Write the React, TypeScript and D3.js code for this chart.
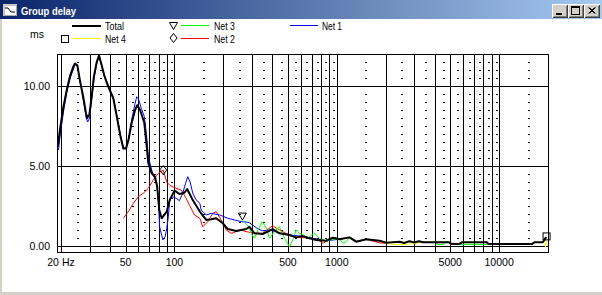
import React from 'react';
import * as d3 from 'd3';

type Pt = [number, number];

// ---- data (frequency Hz, group delay ms) ----
const totalData: Pt[] = [
  [19.1, 6.2], [19.7, 7.25], [20.7, 8.7], [21.7, 9.75], [22.7, 10.6], [23.8, 11.2], [24.4, 11.4], [25.2, 11.3],
  [26.1, 10.4], [27.4, 9.33], [28.5, 8.3], [29.0, 8.0], [29.9, 8.2], [30.9, 9.33], [31.9, 10.6], [33.2, 11.5],
  [34.3, 11.9], [35.6, 11.3], [37.1, 10.6], [39.1, 9.96], [42.0, 9.23], [44.1, 8.1], [46.3, 6.94], [48.4, 6.1],
  [50.3, 6.1], [52.0, 6.6], [54.5, 7.7], [57.2, 8.5], [59.0, 8.8], [61.4, 8.5], [65.2, 7.7], [67.5, 6.2],
  [69.0, 5.17], [72.4, 4.54], [75.8, 4.33], [78.3, 3.7], [80.6, 2.25], [83.4, 1.73], [89.6, 2.15], [93.5, 2.88],
  [100, 3.46], [107.3, 3.25], [115.2, 3.33], [119.7, 3.56], [129.6, 2.88], [143.3, 2.15], [156.8, 1.63],
  [168.3, 1.67], [180.7, 1.73], [198.4, 1.42], [213, 1.06], [240, 0.94], [276.5, 1.06], [289.8, 1.2], [311, 0.79],
  [350, 0.75], [403, 1.06], [443, 0.79], [511, 0.69], [562, 0.54], [617, 0.62], [679, 0.48], [747, 0.38],
  [860, 0.33], [945, 0.52], [1039, 0.42], [1197, 0.54], [1317, 0.27], [1518, 0.42], [1833, 0.33], [2016, 0.21],
  [2434, 0.27], [2600, 0.19], [2800, 0.3], [3000, 0.22], [3200, 0.3], [3400, 0.23], [4900, 0.23], [5100, 0.13],
  [5700, 0.13], [5900, 0.23], [8400, 0.23], [8600, 0.13], [16000, 0.13], [16500, 0.23], [18600, 0.23],
  [19300, 0.5], [19600, 0.55],
];

const net1Data: Pt[] = [
  [19.3, 6.0], [19.8, 7.0], [20.8, 8.5], [21.8, 9.7], [22.8, 10.5], [23.9, 11.1], [24.5, 11.35], [25.3, 11.2],
  [26.2, 10.3], [27.5, 9.1], [28.6, 8.0], [29.2, 7.75], [30.0, 8.0], [31.0, 9.3], [32.0, 10.5], [33.2, 11.4],
  [34.3, 11.85], [35.6, 11.3], [37.1, 10.6], [39.1, 10.0], [42.0, 9.3], [44.1, 8.2], [46.3, 7.0], [48.4, 6.15],
  [50.3, 6.1], [52.0, 6.6], [54.5, 7.9], [57.2, 8.9], [58.5, 9.33], [60.0, 9.2], [62.5, 8.6], [65.2, 8.1],
  [67.5, 6.8], [69.0, 5.6], [70.7, 5.17], [72.4, 4.75], [74.7, 4.33], [77.7, 4.0], [79.5, 2.88], [81, 1.2],
  [84.8, 0.38], [87.6, 0.58], [89.6, 1.1], [91.7, 1.83], [93.5, 2.88], [97.6, 3.08], [102.4, 2.98], [107.3, 2.83],
  [112.5, 3.3], [116.9, 3.9], [120.8, 4.33], [124.9, 4.0], [129.6, 3.3], [136, 2.88], [143.3, 2.67], [146, 2.25],
  [156.8, 1.94], [168.3, 2.04], [190, 1.94], [213, 1.73], [234, 1.63], [258, 1.52], [276.5, 1.5], [290, 1.45],
  [323, 1.1], [350, 0.95], [385, 1.0], [424, 0.88], [465, 0.75], [511, 0.69], [590, 0.62], [747, 0.44],
  [860, 0.33], [1039, 0.42],
];

const net2Data: Pt[] = [
  [48.4, 1.73], [52.0, 2.15], [55.9, 2.67], [59.9, 3.08], [64.3, 3.3], [69.0, 3.6], [74.0, 4.13], [79.5, 4.54],
  [85.2, 4.75], [89.6, 4.0], [93.5, 3.8], [100, 3.65], [110, 3.5], [118, 2.98], [123.8, 2.55], [132.8, 1.94],
  [143.3, 1.73], [149.4, 1.2], [160.4, 1.52], [172.2, 2.04], [180.7, 2.15], [194, 1.63], [208.6, 1.0],
  [224, 0.79], [240, 0.9], [258, 1.0], [276, 0.9], [311, 0.8], [350, 0.8], [403, 1.27], [443, 1.0], [486, 0.79],
  [562, 0.54], [679, 0.5], [747, 0.44], [824, 0.17], [945, 0.54], [1039, 0.42], [1197, 0.54], [1317, 0.27],
  [1518, 0.42], [1833, 0.2], [2000, 0.17],
];

const net3Data: Pt[] = [
  [262, 1.62], [287, 1.2], [301, 0.69], [311, 0.48], [327, 1.0], [348, 1.52], [369, 1.1], [385, 0.48],
  [413, 0.9], [443, 1.2], [476, 0.48], [511, -0.04], [536, 0.38], [562, 1.0], [590, 0.79], [624, 0.69],
  [665, 0.48], [697, 0.69], [730, 0.79], [782, 0.48], [860, 0.27], [940, 0.44], [1039, 0.42], [1095, 0.17],
  [1150, 0.3], [1197, 0.54], [1317, 0.27], [1518, 0.42], [1833, 0.33], [2016, 0.21], [2434, 0.27], [2600, 0.19],
  [2800, 0.3], [3000, 0.22], [3200, 0.3], [3400, 0.23], [4100, 0.23], [4150, 0.1], [4550, 0.1], [4600, 0.23],
  [4900, 0.23], [5100, 0.1], [8400, 0.1], [8600, 0.13], [16000, 0.13], [16500, 0.23], [18600, 0.23],
];

const net4Data: Pt[] = [
  [2016, 0.21], [2250, 0.1], [2750, 0.1], [2850, 0.2], [2950, 0.15], [3150, 0.15], [3250, 0.23], [3400, 0.23],
  [4900, 0.23], [5100, 0.13], [5700, 0.13], [5900, 0.23], [8400, 0.23], [8600, 0.13], [12400, 0.13],
  [12550, 0.1], [12850, 0.1], [13000, 0.13], [16000, 0.13], [16500, 0.23], [18600, 0.23], [19100, 0.35],
  [19300, -0.08], [19500, 0.3],
];

const seriesNames = ['Total', 'Net 1', 'Net 2', 'Net 3', 'Net 4'];
const seriesColors = ['#000000', '#0000ff', '#ff0000', '#00ff00', '#ffff00'];
const seriesData = [totalData, net1Data, net2Data, net3Data, net4Data];

// marker points (series index, freq, value)
const markerSeries = [3, 2, 4];
const markerShapes = ['triangle', 'diamond', 'square'];
const markerFreqs = [262, 85.2, 19600];
const markerValues = [1.62, 4.75, 0.6];

const xTickValues = [20, 50, 100, 500, 1000, 5000, 10000];
const xTickLabels = ['20 Hz', '50', '100', '500', '1000', '5000', '10000'];
const yTickValues = [0, 5, 10];
const yTickLabels = ['0.00', '5.00', '10.00'];

const W = 602;
const H = 295;
const FL = 57, FR = 548, FT = 54, FB = 252;

const FONT = "'Liberation Sans', Arial, sans-serif";

function Marker({ shape, cx, cy, tipAnchor }: { shape: string; cx: number; cy: number; tipAnchor?: boolean }) {
  if (shape === 'triangle') {
    const ty = tipAnchor ? cy : cy + 3.5;
    return <path d={`M${cx - 4},${ty - 7}L${cx + 4},${ty - 7}L${cx},${ty}Z`} fill="none" stroke="#000" strokeWidth={1} />;
  }
  if (shape === 'diamond') {
    return <path d={`M${cx},${cy - 4.5}L${cx + 3.5},${cy}L${cx},${cy + 4.5}L${cx - 3.5},${cy}Z`} fill="none" stroke="#000" strokeWidth={1} />;
  }
  return <rect x={cx - 3.5} y={cy - 3.5} width={7} height={7} fill="none" stroke="#000" strokeWidth={1} />;
}

function Button({ x, kind }: { x: number; kind: string }) {
  const y = 4, w = 16, h = 14;
  return (
    <g shapeRendering="crispEdges">
      <rect x={x} y={y} width={w} height={h} fill="#d4d0c8" />
      <path d={`M${x + 0.5},${y + h - 0.5}V${y + 0.5}H${x + w - 0.5}`} stroke="#ffffff" fill="none" />
      <path d={`M${x + 0.5},${y + h - 0.5}H${x + w - 0.5}V${y + 0.5}`} stroke="#404040" fill="none" />
      <path d={`M${x + 1.5},${y + h - 1.5}H${x + w - 1.5}V${y + 1.5}`} stroke="#808080" fill="none" />
      {kind === 'min' && <rect x={x + 4} y={y + 9} width={6} height={2} fill="#000" />}
      {kind === 'max' && (
        <g>
          <rect x={x + 3.5} y={y + 2.5} width={8} height={8} fill="none" stroke="#000" />
          <rect x={x + 3} y={y + 3} width={9} height={1} fill="#000" />
        </g>
      )}
      {kind === 'close' && (
        <path d={`M${x + 4.5},${y + 3.5}L${x + 10.5},${y + 9.5}M${x + 10.5},${y + 3.5}L${x + 4.5},${y + 9.5}M${x + 5.5},${y + 3.5}L${x + 11.5},${y + 9.5}M${x + 11.5},${y + 3.5}L${x + 5.5},${y + 9.5}`} stroke="#000" strokeWidth={1} shapeRendering="auto" />
      )}
    </g>
  );
}

export default function App() {
  const xs = d3.scaleLog().domain([20, 20000]).range([61, 548]);
  const ys = d3.scaleLinear().domain([0, 10]).range([246, 86]);
  const line = d3.line<Pt>().x((d) => xs(d[0])).y((d) => ys(d[1]));

  const majorF: number[] = [];
  const minorF: number[] = [];
  [10, 100, 1000, 10000].forEach((dec) => {
    for (let k = 1; k <= 9; k++) {
      const f = k * dec;
      if (f >= 20 && f <= 20000) majorF.push(f);
      const m = (k + 0.5) * dec;
      if (m > 20 && m < 20000) minorF.push(m);
    }
  });
  const dotVals: number[] = [];
  for (let v = 0.5; v <= 11.5; v += 0.5) if (v % 5 !== 0) dotVals.push(v);

  const drawOrder = [2, 1, 3, 4, 0];

  return (
    <svg width={W} height={H} style={{ position: 'fixed', left: 0, top: 0 }} fontFamily={FONT}>
      <defs>
        <linearGradient id="tb" x1="0" x2="1" y1="0" y2="0">
          <stop offset="0" stopColor="#0a246a" />
          <stop offset="1" stopColor="#a6caf0" />
        </linearGradient>
        <clipPath id="plotclip">
          <rect x={FL} y={FT} width={FR - FL} height={FB - FT} />
        </clipPath>
      </defs>
      <rect x={0} y={0} width={W} height={H} fill="#ffffff" />
      {/* window frame */}
      <rect x={0} y={0} width={2} height={H} fill="#d4d0c8" />
      <rect x={0} y={292} width={W} height={3} fill="#d4d0c8" />
      {/* title bar */}
      <rect x={0} y={0} width={W} height={19} fill="url(#tb)" />
      <g shapeRendering="crispEdges">
        <rect x={3} y={4} width={14} height={12} fill="#d4d0c8" />
        <rect x={4} y={5} width={12} height={10} fill="#ffffff" stroke="#808080" strokeWidth={0.5} />
        <path d="M5,8H8L11,12H15" stroke="#000" fill="none" strokeWidth={1} shapeRendering="auto" />
      </g>
      <text x={21} y={14.5} fill="#ffffff" fontWeight="bold" fontSize={11} textLength={55} lengthAdjust="spacingAndGlyphs">Group delay</text>
      <Button x={552} kind="min" />
      <Button x={568} kind="max" />
      <Button x={584} kind="close" />

      {/* legend */}
      <text x={30} y={37.5} fontSize={10.5} fill="#000">ms</text>
      <g>
        <g shapeRendering="crispEdges">
          <line x1={72} x2={101} y1={26} y2={26} stroke={seriesColors[0]} strokeWidth={2} />
          <line x1={181} x2={209} y1={25.5} y2={25.5} stroke={seriesColors[3]} strokeWidth={1} />
          <line x1={290} x2={318} y1={25.5} y2={25.5} stroke={seriesColors[1]} strokeWidth={1} />
          <line x1={72} x2={100} y1={38.5} y2={38.5} stroke={seriesColors[4]} strokeWidth={1} />
          <line x1={181} x2={209} y1={38.5} y2={38.5} stroke={seriesColors[2]} strokeWidth={1} />
        </g>
        <text x={105} y={30} fontSize={10.5} textLength={19} lengthAdjust="spacingAndGlyphs">{seriesNames[0]}</text>
        <text x={214} y={30} fontSize={10.5} textLength={21} lengthAdjust="spacingAndGlyphs">{seriesNames[3]}</text>
        <text x={322} y={30} fontSize={10.5} textLength={20} lengthAdjust="spacingAndGlyphs">{seriesNames[1]}</text>
        <text x={105} y={43} fontSize={10.5} textLength={21} lengthAdjust="spacingAndGlyphs">{seriesNames[4]}</text>
        <text x={214} y={43} fontSize={10.5} textLength={21} lengthAdjust="spacingAndGlyphs">{seriesNames[2]}</text>
        <Marker shape="triangle" cx={173.5} cy={26} />
        <Marker shape="square" cx={65} cy={39} />
        <Marker shape="diamond" cx={173.5} cy={38} />
      </g>

      {/* grid */}
      <g shapeRendering="crispEdges">
        {minorF.map((f) =>
          dotVals.map((v) => (
            <rect key={`d${f}-${v}`} x={Math.round(xs(f))} y={Math.round(ys(v))} width={2} height={1} fill="#000" />
          ))
        )}
        {majorF.map((f) => (
          <line key={`m${f}`} x1={Math.round(xs(f)) + 0.5} x2={Math.round(xs(f)) + 0.5} y1={FT} y2={FB} stroke="#000" />
        ))}
        {yTickValues.map((v) => (
          <line key={`h${v}`} x1={FL} x2={FR} y1={Math.round(ys(v)) + 0.5} y2={Math.round(ys(v)) + 0.5} stroke="#000" />
        ))}
        <rect x={FL + 0.5} y={FT + 0.5} width={FR - FL} height={FB - FT} fill="none" stroke="#000" />
      </g>

      {/* axis labels */}
      {yTickValues.map((v, i) => (
        <text key={`yl${v}`} x={50} y={ys(v) + 4} fontSize={10.5} textAnchor="end" fill="#000">{yTickLabels[i]}</text>
      ))}
      {xTickValues.map((f, i) => (
        <text key={`xl${f}`} x={xs(f)} y={266} fontSize={10.5} textAnchor="middle" fill="#000">{xTickLabels[i]}</text>
      ))}

      {/* curves */}
      <g clipPath="url(#plotclip)">
        {drawOrder.map((i) => (
          <path key={seriesNames[i]} d={line(seriesData[i]) || ''} fill="none" stroke={seriesColors[i]} strokeWidth={i === 0 ? 2 : 1} strokeLinejoin="round" />
        ))}
      </g>
      {/* markers on curves */}
      {markerSeries.map((s, i) => (
        <Marker key={`mk${i}`} shape={markerShapes[i]} cx={xs(markerFreqs[i])} cy={ys(markerValues[i])} tipAnchor={true} />
      ))}
    </svg>
  );
}
